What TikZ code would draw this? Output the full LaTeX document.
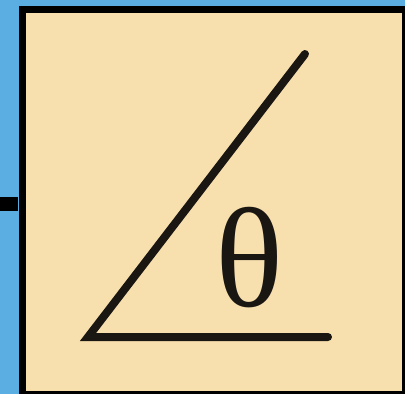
\documentclass[tikz,border=0pt]{standalone}
\usepackage{fontspec}
\setmainfont{Liberation Serif}
\definecolor{bgblue}{HTML}{5AAEE2}
\definecolor{boxfill}{HTML}{F8E0AE}
\definecolor{ink}{HTML}{1A1612}
\tikzset{
  frame/.style={draw=black, line width=7pt, fill=boxfill},
  arm/.style={draw=ink, line width=8pt, line join=miter, line cap=round},
}
\begin{document}
\begin{tikzpicture}[x=1pt,y=-1pt]
\useasboundingbox (0,0) rectangle (405,394);
\fill[bgblue] (0,0) rectangle (405,394);
\draw[line width=14pt, black] (0,204) -- (18,204);
\node[frame, minimum width=382.5pt, minimum height=384.5pt, inner sep=0pt, anchor=north west] (box) at (19,6) {};
\coordinate (v) at (88,337);
\coordinate (h) at (328,337);
\coordinate (t) at (305,54);
\draw[arm] (t) -- (v) -- (h);
\node[inner sep=0pt, text=ink, font=\fontsize{142}{142}\selectfont] (theta) at (249.5,258) {θ};
\end{tikzpicture}
\end{document}
